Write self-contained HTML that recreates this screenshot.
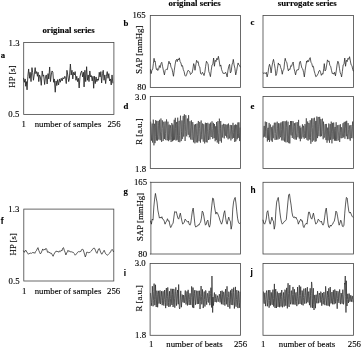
<!DOCTYPE html><html><head><meta charset="utf-8"><style>html,body{margin:0;padding:0;background:#fff;}svg{display:block;will-change:transform}text{font-family:"Liberation Serif",serif;font-size:8.75px;fill:#000;stroke:#000;stroke-width:0.12px}.b{font-weight:bold}.s{font-family:"Liberation Sans",sans-serif;font-weight:bold;font-size:8.3px}</style></head><body>
<svg width="361" height="348" viewBox="0 0 361 348">
<rect width="100%" height="100%" fill="#fff"/>
<rect x="23.7" y="42.5" width="90.2" height="71.9" fill="none" stroke="#484848" stroke-width="0.82"/>
<rect x="23.8" y="209.1" width="90.0" height="71.9" fill="none" stroke="#484848" stroke-width="0.82"/>
<rect x="150.3" y="15.5" width="90.2" height="71.9" fill="none" stroke="#484848" stroke-width="0.82"/>
<rect x="263" y="15.5" width="90.5" height="71.9" fill="none" stroke="#484848" stroke-width="0.82"/>
<rect x="150.3" y="96.5" width="90.2" height="72.0" fill="none" stroke="#484848" stroke-width="0.82"/>
<rect x="263" y="96.5" width="90.5" height="72.0" fill="none" stroke="#484848" stroke-width="0.82"/>
<rect x="150.9" y="182.3" width="89.6" height="71.7" fill="none" stroke="#484848" stroke-width="0.82"/>
<rect x="263" y="182.3" width="90.5" height="71.7" fill="none" stroke="#484848" stroke-width="0.82"/>
<rect x="150.1" y="263.5" width="90.4" height="71.8" fill="none" stroke="#484848" stroke-width="0.82"/>
<rect x="263" y="263.5" width="90.5" height="71.8" fill="none" stroke="#484848" stroke-width="0.82"/>
<path d="M149.9 182.3H151M149.9 254H151" stroke="#484848" stroke-width="0.82"/>
<polyline points="23.60,78.27 24.39,82.26 25.19,78.94 25.72,86.25 26.39,81.60 27.05,89.84 27.85,76.28 28.65,68.96 29.45,78.27 30.11,72.29 31.04,81.60 31.97,67.63 32.64,72.29 33.44,80.27 34.23,74.95 35.16,67.63 35.83,73.62 36.63,71.62 37.43,76.28 38.09,72.29 38.76,81.60 39.55,74.95 40.35,76.94 41.28,85.32 42.21,70.96 43.01,76.28 43.68,74.95 44.61,84.52 45.54,76.28 46.34,74.95 47.13,83.99 48.06,73.62 48.73,78.94 49.66,66.97 50.46,81.60 51.26,74.95 52.05,70.96 52.85,72.29 53.65,82.26 54.31,78.94 55.24,92.23 56.04,80.93 56.84,85.59 57.64,79.60 58.57,84.92 59.50,78.94 60.30,82.26 61.23,78.27 62.16,80.93 62.96,77.61 63.89,78.94 64.82,76.28 65.62,78.27 66.28,83.59 66.95,70.29 67.74,74.95 68.66,81.60 69.33,78.94 70.39,64.04 71.19,74.95 71.99,70.29 72.79,78.94 73.59,72.29 74.38,74.95 75.18,71.62 75.98,80.27 76.78,76.28 77.57,81.60 78.37,78.27 79.17,87.98 79.97,76.94 80.77,72.95 81.70,70.96 82.63,76.94 83.43,72.29 84.09,86.91 84.89,70.29 85.69,81.60 86.62,66.70 87.41,80.27 88.21,74.95 89.01,81.60 89.81,70.96 90.61,76.94 91.40,75.61 92.20,80.93 93.00,76.28 93.66,88.24 94.46,76.28 95.26,83.59 96.06,76.94 96.86,81.60 97.65,78.94 98.45,80.27 99.25,72.29 100.05,76.94 100.85,71.62 101.64,82.93 102.44,73.62 103.24,70.29 104.04,80.27 104.84,74.95 105.63,83.59 106.43,76.28 107.23,71.62 108.03,78.27 108.82,73.62 109.62,80.93 110.42,78.94 111.22,84.92 112.02,74.95 112.81,82.93" fill="none" stroke="#222" stroke-width="0.85" stroke-linejoin="round" stroke-linecap="round"/>
<polyline points="150.60,69.60 151.13,73.59 151.93,70.27 152.72,68.94 153.39,63.62 154.05,58.30 154.59,61.62 155.12,60.96 155.91,66.94 156.45,69.60 157.24,68.67 157.78,70.53 158.57,69.60 159.37,65.61 160.17,67.61 160.97,63.62 161.77,62.29 162.56,66.28 163.36,70.27 164.43,74.92 165.22,70.27 166.29,69.20 167.35,69.60 168.15,64.95 168.95,61.22 169.74,63.62 170.28,62.95 171.07,67.61 171.87,68.27 172.67,72.26 173.47,76.25 174.27,70.27 175.06,64.95 175.86,60.29 176.66,59.36 177.19,61.62 177.99,58.96 178.79,59.89 179.32,57.90 180.12,61.62 180.91,62.95 181.71,66.28 182.51,65.61 183.31,69.60 184.11,71.60 184.90,75.32 185.70,76.25 186.50,74.92 187.30,72.26 188.10,70.27 188.89,70.93 189.69,71.60 190.49,74.52 191.29,73.59 192.09,72.93 192.88,68.94 193.68,63.62 194.48,66.28 195.00,70.27 195.80,64.95 196.60,60.29 197.39,62.29 198.19,61.62 198.99,66.28 199.79,66.94 200.59,73.59 201.65,74.26 202.45,72.26 203.24,73.59 204.04,75.59 204.84,72.26 205.64,66.28 206.44,61.22 207.23,62.95 208.03,63.62 208.83,71.60 209.63,73.59 210.43,76.65 211.22,70.27 212.02,64.95 212.82,64.28 213.62,58.03 214.41,66.28 215.21,60.29 216.01,61.62 216.81,58.30 217.61,59.63 218.40,56.30 219.20,60.96 220.00,66.28 220.80,64.95 221.60,69.60 222.39,71.60 223.19,73.59 223.99,72.93 224.79,73.59 225.59,72.26 226.38,73.99 227.18,76.91 227.98,70.27 228.78,66.28 229.57,64.28 230.37,72.93 231.17,71.60 231.97,64.95 232.77,62.29 233.30,59.36 234.10,64.95 234.89,68.27 235.69,74.92 236.49,71.60 237.29,66.94 238.09,62.95 238.88,64.95 239.68,65.61 240.21,66.94" fill="none" stroke="#222" stroke-width="0.74" stroke-linejoin="round" stroke-linecap="round"/>
<polyline points="263.13,72.93 263.93,73.59 264.72,72.93 265.52,73.59 266.32,72.26 267.12,76.91 267.91,73.59 268.71,67.61 269.51,64.28 270.31,66.94 271.11,72.93 271.90,66.94 272.70,62.29 273.50,59.36 274.30,63.62 275.10,68.27 275.89,75.59 276.69,73.59 277.49,68.27 278.29,62.95 279.09,64.95 279.88,64.28 280.68,67.61 281.48,69.60 282.28,74.26 283.07,70.27 283.87,69.60 284.67,61.62 285.20,58.30 286.00,61.62 286.80,62.29 287.60,67.61 288.39,70.93 289.19,68.94 289.99,69.60 290.79,65.61 291.59,66.28 292.38,63.62 293.18,62.02 293.98,68.27 294.78,71.60 295.57,74.92 296.37,70.93 297.17,69.60 297.97,70.27 298.77,68.94 299.56,62.29 300.36,61.22 301.16,64.95 301.96,68.27 302.76,68.94 303.55,72.26 304.35,76.91 305.15,70.27 305.95,64.95 306.74,60.96 307.00,62.29 307.80,60.29 308.60,61.62 309.39,58.96 310.19,57.63 310.99,62.29 311.79,63.62 312.59,66.94 313.38,66.28 314.18,70.93 314.98,73.59 315.78,76.65 316.57,76.25 317.37,74.92 318.17,73.59 318.97,70.93 319.77,70.27 320.56,72.26 321.36,75.32 322.16,73.59 322.96,74.26 323.76,68.27 324.29,63.62 325.09,70.93 325.88,69.60 326.68,64.95 327.48,59.89 328.28,61.62 329.07,60.96 329.87,65.61 330.67,66.28 331.47,70.27 332.27,73.59 333.06,72.93 333.86,74.26 334.66,72.26 335.46,75.85 336.26,70.93 337.05,64.95 337.85,61.22 338.65,62.95 339.45,68.27 340.24,72.93 341.04,74.52 341.57,76.91 342.37,71.60 343.17,64.95 343.97,64.28 344.77,58.03 345.56,66.28 346.36,60.29 347.16,61.62 347.96,58.30 348.76,59.36 349.55,56.70 350.35,60.96 351.15,64.95 351.95,65.61 352.74,69.60 353.28,70.93" fill="none" stroke="#222" stroke-width="0.74" stroke-linejoin="round" stroke-linecap="round"/>
<polyline points="150.61,221.14 151.41,224.16 152.21,219.14 153.02,220.14 153.82,207.09 154.62,199.06 155.43,193.43 156.23,198.05 157.03,202.07 157.84,210.10 158.64,214.12 159.44,218.13 160.24,217.13 161.05,218.13 161.85,216.73 162.65,219.14 163.46,219.54 164.26,221.14 165.06,224.16 165.87,222.15 166.67,221.14 167.47,218.73 168.28,221.14 169.08,220.74 169.88,225.16 170.69,227.57 171.49,226.16 172.29,224.16 173.10,223.15 173.90,217.13 174.70,211.51 175.51,212.11 176.31,211.71 177.11,215.12 177.92,218.13 178.72,219.14 179.52,216.12 180.33,213.11 181.13,217.13 181.93,221.14 182.73,224.16 183.54,223.15 184.34,222.15 185.14,219.14 185.95,220.14 186.75,221.14 187.55,222.15 188.36,221.14 189.16,224.16 189.96,225.16 190.77,223.15 191.57,217.13 192.37,211.10 193.18,208.09 193.98,215.12 194.78,223.15 195.00,225.16 195.80,227.17 196.61,226.16 197.41,226.16 198.21,224.76 199.02,225.16 199.82,223.15 200.62,222.15 201.43,218.13 202.23,211.10 203.03,212.11 203.84,216.12 204.64,221.14 205.44,225.16 206.24,224.16 207.05,221.14 207.85,220.14 208.65,225.16 209.46,227.17 210.26,224.16 211.06,213.11 211.87,205.08 212.67,198.05 213.47,198.65 214.28,205.08 215.08,210.10 215.88,214.12 216.69,212.11 217.49,213.11 218.29,215.12 219.10,217.13 219.90,220.14 220.70,222.15 221.51,224.16 222.31,222.15 223.11,218.13 223.92,213.11 224.72,210.70 225.52,217.13 226.33,222.15 227.13,224.16 227.93,220.14 228.73,217.13 229.54,220.14 230.34,221.14 231.14,229.18 231.95,225.16 232.75,209.10 233.55,202.07 234.36,199.06 235.16,197.45 235.96,203.07 236.77,211.10 237.57,218.13 238.37,222.15 239.18,223.55 239.98,223.15" fill="none" stroke="#222" stroke-width="0.74" stroke-linejoin="round" stroke-linecap="round"/>
<polyline points="263.01,220.14 263.81,223.15 264.61,224.16 265.42,222.15 266.22,219.14 267.02,212.11 267.83,210.70 268.63,216.12 269.43,222.15 270.24,224.16 271.04,221.14 271.84,217.13 272.65,220.14 273.45,221.14 274.25,229.18 275.06,225.16 275.86,211.10 276.66,202.07 277.47,199.46 278.27,197.45 279.07,204.08 279.88,212.11 280.68,218.13 281.48,222.15 282.29,224.16 283.09,223.15 283.89,222.15 284.69,221.14 285.50,220.74 286.30,219.54 287.10,211.10 287.91,202.07 288.71,194.64 289.51,194.04 290.32,200.06 291.12,205.08 291.92,212.11 292.73,216.12 293.53,217.53 294.33,216.73 295.14,218.13 295.94,217.13 296.74,219.14 297.55,220.14 298.35,224.16 299.15,222.15 299.96,220.74 300.76,219.14 301.56,221.14 302.37,220.74 303.17,226.16 303.97,227.57 304.78,225.16 305.58,224.16 306.38,223.15 307.00,224.16 307.80,218.13 308.61,212.11 309.41,212.11 310.21,215.12 311.02,218.13 311.82,219.14 312.62,216.12 313.43,213.11 314.23,217.13 315.03,221.14 315.84,224.16 316.64,223.15 317.44,222.15 318.24,219.14 319.05,220.14 319.85,221.14 320.65,222.15 321.46,221.14 322.26,224.16 323.06,225.16 323.87,223.15 324.67,217.13 325.47,211.10 326.28,208.09 327.08,215.12 327.88,223.15 328.69,227.17 329.49,227.57 330.29,225.16 331.10,226.16 331.90,224.76 332.70,224.16 333.51,222.15 334.31,221.14 335.11,217.13 335.92,211.10 336.72,212.11 337.52,216.12 338.33,221.14 339.13,225.16 339.93,223.15 340.73,220.14 341.54,222.15 342.34,226.16 343.14,226.77 343.95,225.16 344.75,213.11 345.55,204.08 346.36,197.45 347.16,198.05 347.96,205.08 348.77,211.10 349.57,213.11 350.37,212.11 351.18,214.12 351.98,216.12 352.78,217.13" fill="none" stroke="#222" stroke-width="0.74" stroke-linejoin="round" stroke-linecap="round"/>
<polyline points="23.60,250.96 24.39,252.29 25.19,250.69 25.99,250.29 26.79,252.02 27.59,252.95 28.38,254.28 29.18,253.35 29.98,253.62 30.78,252.95 31.57,253.35 32.37,252.55 33.17,252.95 33.97,252.29 34.77,253.35 35.56,251.62 36.36,250.69 37.16,248.96 37.96,247.63 38.76,250.29 39.55,252.29 40.35,253.88 41.15,252.95 41.95,250.96 42.74,248.96 43.54,250.29 44.34,249.36 45.14,249.89 45.94,248.30 46.73,249.36 47.53,252.29 48.33,251.62 49.13,252.95 49.93,252.29 50.72,253.62 51.52,253.35 52.32,254.95 53.12,256.28 53.91,254.28 54.71,252.95 55.51,251.62 56.31,250.96 57.11,252.02 57.90,251.22 58.70,252.29 59.50,250.96 60.30,251.62 61.10,250.29 61.89,250.96 62.69,248.30 63.49,247.63 64.29,250.29 65.09,252.29 65.88,254.95 66.68,252.95 67.48,251.62 68.00,250.29 68.80,251.62 69.60,250.96 70.39,252.02 71.19,251.62 71.99,252.29 72.79,252.02 73.59,252.95 74.38,253.62 75.18,255.21 75.98,254.28 76.78,253.62 77.57,252.29 78.37,251.62 79.17,252.02 79.97,251.22 80.77,251.62 81.56,249.63 82.36,249.36 83.16,249.63 83.96,252.29 84.76,254.95 85.29,256.94 86.09,254.95 86.62,252.29 87.41,252.02 88.21,252.95 89.01,252.29 89.81,252.55 90.61,251.62 91.40,250.96 92.20,249.63 93.00,248.96 93.80,248.03 94.60,248.30 95.39,250.29 96.19,252.29 96.99,253.35 97.79,250.96 98.59,248.96 99.38,248.56 100.18,250.96 100.98,252.95 101.78,254.28 102.57,252.95 103.37,251.62 104.17,250.29 104.97,252.29 105.77,253.88 106.56,254.68 107.36,255.21 108.16,254.68 108.96,253.62 109.76,252.95 110.55,252.02 111.35,250.29 112.15,249.36 112.95,250.69 113.48,251.62" fill="none" stroke="#222" stroke-width="0.74" stroke-linejoin="round" stroke-linecap="round"/>
<polyline points="150.80,122.01 151.15,133.94 151.50,140.66 151.85,128.04 152.20,123.53 152.55,142.55 152.90,137.78 153.25,119.62 153.60,125.70 153.95,145.35 154.30,125.98 154.65,123.72 155.00,143.17 155.35,136.30 155.70,120.09 156.05,127.81 156.40,140.52 156.75,120.95 157.10,125.36 157.45,140.69 157.80,134.23 158.15,120.87 158.50,125.30 158.85,139.59 159.20,136.32 159.55,119.78 159.89,130.50 160.24,140.24 160.59,131.90 160.94,118.47 161.29,132.50 161.64,141.93 161.99,128.69 162.34,120.35 162.69,128.23 163.04,140.99 163.39,139.52 163.74,121.75 164.09,125.56 164.44,139.06 164.79,130.02 165.14,121.49 165.49,133.54 165.84,140.11 166.19,130.09 166.54,119.38 166.89,126.02 167.24,140.37 167.59,138.59 167.94,121.65 168.29,133.85 168.64,141.17 168.99,125.39 169.34,124.62 169.69,139.87 170.04,139.32 170.39,125.19 170.74,128.80 171.09,142.02 171.44,137.68 171.79,122.99 172.14,125.88 172.49,141.24 172.84,124.59 173.19,130.08 173.54,140.35 173.89,125.28 174.24,119.75 174.59,139.75 174.94,135.51 175.29,117.82 175.64,128.55 175.99,140.56 176.34,124.37 176.69,121.95 177.04,139.90 177.39,135.48 177.73,117.67 178.08,140.11 178.43,141.87 178.78,125.34 179.13,120.82 179.48,135.40 179.83,142.22 180.18,121.65 180.53,115.65 180.88,129.60 181.23,141.07 181.58,131.39 181.93,120.48 182.28,138.98 182.63,138.65 182.98,116.54 183.33,115.88 183.68,136.58 184.03,132.18 184.38,114.28 184.73,124.52 185.08,141.01 185.43,131.75 185.78,115.20 186.13,118.64 186.48,136.06 186.83,136.42 187.18,122.09 187.53,118.53 187.88,130.68 188.23,134.79 188.58,115.15 188.93,123.02 189.28,137.37 189.63,135.84 189.98,121.22 190.33,127.79 190.68,139.47 191.03,133.42 191.38,120.33 191.73,126.85 192.08,139.86 192.43,130.92 192.78,122.09 193.13,129.36 193.48,142.33 193.83,136.31 194.18,124.52 194.53,125.04 194.88,143.33 195.23,127.81 195.57,124.01 195.92,138.06 196.27,142.42 196.62,128.24 196.97,123.53 197.32,134.38 197.67,142.59 198.02,126.72 198.37,120.97 198.72,136.84 199.07,141.27 199.42,128.48 199.77,121.95 200.12,131.49 200.47,142.67 200.82,130.58 201.17,120.46 201.52,134.14 201.87,139.32 202.22,125.39 202.57,123.45 202.92,134.93 203.27,141.68 203.62,124.41 203.97,124.18 204.32,132.94 204.67,143.43 205.02,133.55 205.37,122.71 205.72,134.77 206.07,142.08 206.42,123.02 206.77,132.04 207.12,142.50 207.47,131.20 207.82,122.81 208.17,128.63 208.52,140.00 208.87,135.71 209.22,123.70 209.57,130.66 209.92,139.50 210.27,131.90 210.62,122.60 210.97,135.78 211.32,137.02 211.67,126.61 212.02,121.34 212.37,128.41 212.72,138.83 213.07,132.71 213.41,122.88 213.76,130.79 214.11,138.09 214.46,124.00 214.81,129.67 215.16,141.25 215.51,126.67 215.86,126.23 216.21,139.98 216.56,121.98 216.91,127.84 217.26,142.54 217.61,128.13 217.96,121.07 218.31,132.83 218.66,143.82 219.01,133.40 219.36,118.62 219.71,124.50 220.06,141.15 220.41,128.52 220.76,121.02 221.11,137.04 221.46,142.61 221.81,129.78 222.16,124.70 222.51,137.19 222.86,137.62 223.21,126.85 223.56,123.78 223.91,132.04 224.26,138.43 224.61,126.81 224.96,124.04 225.31,135.07 225.66,135.75 226.01,124.67 226.36,134.17 226.71,137.64 227.06,124.98 227.41,124.44 227.76,134.43 228.11,139.33 228.46,123.50 228.81,128.50 229.16,138.42 229.51,138.24 229.86,128.64 230.21,124.93 230.56,133.98 230.91,140.48 231.25,134.99 231.60,125.14 231.95,134.66 232.30,138.76 232.65,129.55 233.00,122.83 233.35,132.67 233.70,138.00 234.05,125.91 234.40,125.17 234.75,142.01 235.10,129.80 235.45,124.43 235.80,141.27 236.15,139.14 236.50,124.83 236.85,125.29 237.20,139.30 237.55,133.87 237.90,122.44 238.25,137.95 238.60,133.92 238.95,122.34 239.30,132.67 239.65,141.06 240.00,127.93" fill="none" stroke="#222" stroke-width="0.58" stroke-linejoin="round" stroke-linecap="round"/>
<polyline points="263.50,137.04 263.85,129.95 264.20,125.91 264.55,136.71 264.90,136.30 265.25,121.59 265.61,131.85 265.96,137.81 266.31,128.33 266.66,122.05 267.01,129.14 267.36,141.52 267.71,129.52 268.06,127.81 268.41,140.03 268.76,129.54 269.12,122.91 269.47,141.95 269.82,135.07 270.17,124.58 270.52,124.59 270.87,137.70 271.22,140.55 271.57,127.28 271.92,127.23 272.27,141.88 272.63,128.62 272.98,125.48 273.33,137.48 273.68,138.30 274.03,125.81 274.38,122.67 274.73,133.79 275.08,139.99 275.43,133.43 275.78,122.65 276.14,131.58 276.49,139.67 276.84,134.57 277.19,121.66 277.54,128.75 277.89,139.60 278.24,136.01 278.59,123.17 278.94,136.54 279.29,138.87 279.65,129.04 280.00,123.32 280.35,137.34 280.70,135.65 281.05,122.28 281.40,129.40 281.75,140.43 282.10,133.55 282.45,121.43 282.80,137.94 283.15,140.53 283.51,126.96 283.86,121.13 284.21,136.63 284.56,141.63 284.91,128.10 285.26,121.32 285.61,141.33 285.96,142.39 286.31,127.37 286.66,120.60 287.02,136.21 287.37,142.21 287.72,125.31 288.07,121.70 288.42,135.03 288.77,143.15 289.12,127.39 289.47,125.10 289.82,143.44 290.17,132.06 290.53,121.01 290.88,134.28 291.23,135.41 291.58,121.04 291.93,126.59 292.28,137.97 292.63,131.78 292.98,121.12 293.33,123.16 293.68,138.81 294.04,137.80 294.39,123.12 294.74,126.42 295.09,139.62 295.44,135.51 295.79,122.55 296.14,133.29 296.49,139.61 296.84,132.12 297.19,122.05 297.55,126.76 297.90,137.25 298.25,133.38 298.60,119.86 298.95,131.37 299.30,138.64 299.65,126.87 300.00,125.72 300.35,141.24 300.70,127.92 301.05,127.53 301.41,138.34 301.76,138.75 302.11,128.19 302.46,124.30 302.81,134.79 303.16,137.42 303.51,125.77 303.86,128.25 304.21,138.84 304.56,133.39 304.92,124.09 305.27,125.38 305.62,137.98 305.97,130.24 306.32,118.32 306.67,137.78 307.02,139.82 307.37,124.19 307.72,121.45 308.07,140.67 308.43,138.95 308.78,122.98 309.13,123.82 309.48,137.77 309.83,139.64 310.18,120.24 310.53,137.34 310.88,143.77 311.23,132.51 311.58,118.37 311.94,128.69 312.29,141.79 312.64,127.54 312.99,118.35 313.34,124.32 313.69,140.53 314.04,137.06 314.39,117.69 314.74,121.73 315.09,141.79 315.45,125.89 315.80,120.97 316.15,141.24 316.50,135.16 316.85,116.51 317.20,132.02 317.55,138.11 317.90,119.78 318.25,116.98 318.60,131.79 318.95,136.20 319.31,126.95 319.66,116.86 320.01,124.93 320.36,136.55 320.71,119.11 321.06,119.25 321.41,136.20 321.76,133.14 322.11,120.41 322.46,118.61 322.82,131.34 323.17,139.26 323.52,121.64 323.87,128.20 324.22,137.72 324.57,135.56 324.92,125.80 325.27,124.05 325.62,134.92 325.97,140.10 326.33,123.93 326.68,131.11 327.03,142.74 327.38,130.84 327.73,127.57 328.08,140.42 328.43,136.11 328.78,123.48 329.13,133.82 329.48,142.75 329.84,130.44 330.19,124.06 330.54,139.80 330.89,136.58 331.24,121.62 331.59,133.12 331.94,143.37 332.29,131.40 332.64,122.89 332.99,139.21 333.35,138.52 333.70,122.56 334.05,128.24 334.40,140.70 334.75,128.75 335.10,126.98 335.45,140.75 335.80,130.51 336.15,122.24 336.50,139.38 336.85,140.97 337.21,125.52 337.56,125.16 337.91,138.43 338.26,140.43 338.61,131.12 338.96,124.88 339.31,130.20 339.66,142.03 340.01,135.56 340.36,124.21 340.72,132.66 341.07,138.28 341.42,127.25 341.77,128.94 342.12,138.10 342.47,136.62 342.82,124.09 343.17,123.13 343.52,137.43 343.87,136.54 344.23,121.88 344.58,133.21 344.93,138.72 345.28,128.69 345.63,121.51 345.98,132.73 346.33,136.27 346.68,120.79 347.03,131.00 347.38,139.14 347.74,133.41 348.09,123.06 348.44,129.64 348.79,138.61 349.14,139.19 349.49,125.42 349.84,125.73 350.19,140.71 350.54,136.79 350.89,125.02 351.25,128.26 351.60,138.08 351.95,136.77 352.30,126.30 352.65,121.55 353.00,138.07" fill="none" stroke="#222" stroke-width="0.58" stroke-linejoin="round" stroke-linecap="round"/>
<polyline points="150.60,293.50 150.95,299.23 151.30,305.80 151.65,302.49 152.00,294.85 152.35,286.20 152.70,295.99 153.05,306.28 153.40,300.63 153.76,291.41 154.11,283.62 154.46,299.19 154.81,305.18 155.16,299.53 155.51,284.78 155.86,296.55 156.21,307.01 156.56,301.00 156.91,290.67 157.26,294.48 157.61,307.25 157.96,301.16 158.31,293.09 158.66,290.79 159.01,303.59 159.36,301.06 159.72,291.39 160.07,290.49 160.42,304.06 160.77,302.82 161.12,296.40 161.47,291.18 161.82,297.36 162.17,305.16 162.52,300.34 162.87,291.22 163.22,291.41 163.57,304.75 163.92,305.61 164.27,299.53 164.62,290.03 164.97,295.05 165.32,302.44 165.68,308.12 166.03,292.13 166.38,288.06 166.73,298.44 167.08,305.74 167.43,296.18 167.78,287.41 168.13,294.02 168.48,302.61 168.83,306.98 169.18,296.70 169.53,291.22 169.88,302.61 170.23,306.50 170.58,298.63 170.93,288.74 171.28,294.89 171.64,303.80 171.99,304.99 172.34,288.87 172.69,294.27 173.04,306.98 173.39,304.53 173.74,288.92 174.09,290.17 174.44,298.85 174.79,307.67 175.14,302.95 175.49,291.81 175.84,287.35 176.19,293.89 176.54,305.64 176.89,302.47 177.24,293.33 177.60,289.96 177.95,299.35 178.30,304.24 178.65,284.50 179.00,298.25 179.35,308.00 179.70,308.92 180.05,306.76 180.40,297.05 180.75,290.84 181.10,299.59 181.45,307.21 181.80,301.44 182.15,294.58 182.50,295.45 182.85,301.98 183.20,302.47 183.56,295.06 183.91,296.14 184.26,302.24 184.61,302.86 184.96,294.19 185.31,290.51 185.66,297.88 186.01,304.44 186.36,301.20 186.71,293.28 187.06,291.37 187.41,305.52 187.76,300.39 188.11,289.84 188.46,294.20 188.81,302.32 189.16,305.01 189.52,299.60 189.87,293.34 190.22,293.48 190.57,304.40 190.92,304.99 191.27,297.29 191.62,286.42 191.97,289.54 192.32,304.86 192.67,307.46 193.02,287.58 193.37,295.18 193.72,308.06 194.07,301.22 194.42,293.64 194.77,290.12 195.12,298.15 195.48,304.77 195.83,299.35 196.18,290.55 196.53,291.20 196.88,300.24 197.23,304.09 197.58,298.99 197.93,290.83 198.28,296.99 198.63,303.96 198.98,301.08 199.33,290.69 199.68,296.20 200.03,309.04 200.38,301.31 200.73,293.87 201.08,286.03 201.44,296.58 201.79,304.32 202.14,300.32 202.49,289.40 202.84,297.78 203.19,308.06 203.54,305.34 203.89,294.27 204.24,291.51 204.59,299.33 204.94,306.52 205.29,301.24 205.64,290.38 205.99,291.70 206.34,300.44 206.69,304.70 207.04,298.43 207.40,293.24 207.75,293.75 208.10,301.86 208.45,302.53 208.80,294.69 209.15,290.87 209.50,296.76 209.85,305.20 210.20,300.90 210.55,293.21 210.90,287.69 211.25,293.51 211.60,307.49 211.95,276.00 212.30,296.25 212.65,312.50 213.00,297.02 213.36,305.59 213.71,303.17 214.06,295.51 214.41,292.54 214.76,299.07 215.11,301.99 215.46,298.48 215.81,294.34 216.16,297.05 216.51,302.29 216.86,301.27 217.21,297.93 217.56,295.65 217.91,297.84 218.26,301.71 218.61,300.41 218.96,297.20 219.32,294.11 219.67,296.86 220.02,302.45 220.37,299.15 220.72,291.02 221.07,296.20 221.42,304.24 221.77,297.99 222.12,290.68 222.47,294.26 222.82,303.93 223.17,304.67 223.52,292.20 223.87,291.80 224.22,294.81 224.57,302.53 224.92,305.58 225.28,293.77 225.63,289.06 225.98,299.84 226.33,304.33 226.68,296.89 227.03,286.31 227.38,296.27 227.73,306.04 228.08,306.98 228.43,297.59 228.78,291.68 229.13,293.11 229.48,303.31 229.83,308.57 230.18,299.45 230.53,290.42 230.88,302.61 231.24,304.88 231.59,292.29 231.94,288.88 232.29,292.06 232.64,304.95 232.99,304.90 233.34,292.45 233.69,287.54 234.04,299.04 234.39,308.56 234.74,301.86 235.09,292.47 235.44,286.88 235.79,305.43 236.14,306.69 236.49,299.46 236.84,290.10 237.20,294.66 237.55,305.21 237.90,308.08 238.25,293.54 238.60,290.77 238.95,302.27 239.30,307.89 239.65,302.22 240.00,292.11" fill="none" stroke="#222" stroke-width="0.7" stroke-linejoin="round" stroke-linecap="round"/>
<polyline points="263.50,291.89 263.85,300.90 264.20,303.68 264.55,294.98 264.90,292.79 265.25,299.33 265.61,306.15 265.96,301.69 266.31,292.22 266.66,290.56 267.01,298.87 267.36,306.29 267.71,302.63 268.06,293.42 268.41,290.16 268.76,300.60 269.12,307.68 269.47,300.32 269.82,290.07 270.17,294.02 270.52,305.48 270.87,301.87 271.22,292.36 271.57,294.94 271.92,304.02 272.27,304.89 272.63,292.99 272.98,289.65 273.33,298.37 273.68,306.47 274.03,298.67 274.38,283.90 274.73,302.74 275.08,307.99 275.43,291.23 275.78,289.06 276.14,298.01 276.49,308.02 276.84,297.38 277.19,291.59 277.54,292.73 277.89,306.56 278.24,306.93 278.59,297.02 278.94,293.03 279.29,301.16 279.65,307.29 280.00,294.21 280.35,292.71 280.70,299.62 281.05,306.49 281.40,296.33 281.75,290.01 282.10,297.16 282.45,307.32 282.80,305.19 283.15,295.58 283.51,292.45 283.86,303.14 284.21,306.55 284.56,298.86 284.91,289.67 285.26,290.85 285.61,305.31 285.96,305.84 286.31,292.95 286.66,287.89 287.02,300.68 287.37,308.38 287.72,291.04 288.07,283.23 288.42,293.16 288.77,304.63 289.12,306.94 289.47,293.10 289.82,285.05 290.17,299.22 290.53,304.24 290.88,301.59 291.23,290.88 291.58,290.61 291.93,301.12 292.28,304.43 292.63,294.57 292.98,286.95 293.33,294.21 293.68,304.41 294.04,300.15 294.39,289.22 294.74,294.26 295.09,304.71 295.44,300.02 295.79,293.07 296.14,292.34 296.49,301.44 296.84,306.12 297.19,298.17 297.55,287.04 297.90,296.39 298.25,304.39 298.60,303.14 298.95,293.91 299.30,285.28 299.65,295.69 300.00,303.94 300.35,295.48 300.70,286.65 301.05,295.57 301.41,303.00 301.76,304.72 302.11,290.54 302.46,292.74 302.81,303.64 303.16,305.42 303.51,297.48 303.86,288.65 304.21,295.33 304.56,303.55 304.92,303.59 305.27,295.22 305.62,288.15 305.97,292.73 306.32,303.36 306.67,301.93 307.02,291.42 307.37,287.18 307.72,301.91 308.07,302.43 308.43,293.67 308.78,291.55 309.13,299.21 309.48,305.15 309.83,296.31 310.18,288.27 310.53,295.62 310.88,307.56 311.23,293.29 311.58,281.93 311.94,284.50 312.29,298.25 312.64,308.00 312.99,293.66 313.34,288.20 313.69,304.53 314.04,310.01 314.39,298.94 314.74,294.95 315.09,302.46 315.45,308.21 315.80,297.56 316.15,294.68 316.50,300.38 316.85,303.29 317.20,297.92 317.55,291.12 317.90,294.94 318.25,303.25 318.60,300.87 318.95,294.98 319.31,292.99 319.66,295.32 320.01,302.61 320.36,302.22 320.71,291.65 321.06,292.45 321.41,299.46 321.76,305.72 322.11,297.86 322.46,293.04 322.82,298.42 323.17,304.29 323.52,300.68 323.87,291.97 324.22,294.38 324.57,302.96 324.92,305.15 325.27,299.22 325.62,286.33 325.97,291.81 326.33,300.10 326.68,305.50 327.03,298.29 327.38,291.10 327.73,295.55 328.08,305.74 328.43,297.78 328.78,288.30 329.13,294.85 329.48,306.36 329.84,301.06 330.19,287.01 330.54,292.65 330.89,303.50 331.24,303.19 331.59,298.09 331.94,292.00 332.29,300.07 332.64,304.31 332.99,297.70 333.35,290.24 333.70,299.78 334.05,304.26 334.40,302.68 334.75,289.44 335.10,292.20 335.45,303.42 335.80,301.39 336.15,290.88 336.50,292.36 336.85,301.73 337.21,308.72 337.56,298.69 337.91,291.22 338.26,292.68 338.61,301.40 338.96,302.89 339.31,293.71 339.66,289.45 340.01,294.87 340.36,304.17 340.72,302.14 341.07,293.02 341.42,294.00 341.77,300.30 342.12,303.72 342.47,294.74 342.82,289.65 343.17,294.79 343.52,304.35 343.87,302.37 344.23,295.16 344.58,283.17 344.93,284.27 345.28,276.00 345.63,296.25 345.98,312.50 346.33,280.75 346.68,299.43 347.03,306.03 347.38,299.42 347.74,293.82 348.09,296.84 348.44,302.97 348.79,299.54 349.14,293.54 349.49,296.21 349.84,301.75 350.19,301.25 350.54,295.92 350.89,295.16 351.25,299.75 351.60,301.73 351.95,296.98 352.30,295.94 352.65,299.21 353.00,301.86" fill="none" stroke="#222" stroke-width="0.7" stroke-linejoin="round" stroke-linecap="round"/>
<text x="68.5" y="33" text-anchor="middle" class="b">original series</text>
<text x="194.5" y="6" text-anchor="middle" class="b">original series</text>
<text x="307.2" y="6" text-anchor="middle" class="b">surrogate series</text>
<text x="0.7" y="57.7" text-anchor="start" class="b">a</text>
<text x="0.8" y="224.1" text-anchor="start" class="s">f</text>
<text x="123.5" y="25.7" text-anchor="start" class="b">b</text>
<text x="250.5" y="25.3" text-anchor="start" class="b">c</text>
<text x="123.5" y="109" text-anchor="start" class="b">d</text>
<text x="250.5" y="109" text-anchor="start" class="b">e</text>
<text x="123.5" y="193.6" text-anchor="start" class="b">g</text>
<text x="250.6" y="193.4" text-anchor="start" class="s">h</text>
<text x="123.8" y="275.6" text-anchor="start" class="s">i</text>
<text x="250.5" y="275" text-anchor="start" class="s">j</text>
<text x="19.5" y="45.5" text-anchor="end" class="">1.3</text>
<text x="19.3" y="117.0" text-anchor="end" class="">0.5</text>
<text x="19.3" y="212.1" text-anchor="end" class="">1.3</text>
<text x="19.5" y="284" text-anchor="end" class="">0.5</text>
<text x="145.5" y="18.2" text-anchor="end" class="">165</text>
<text x="146" y="90" text-anchor="end" class="">80</text>
<text x="146" y="99.6" text-anchor="end" class="">3.0</text>
<text x="146" y="171.7" text-anchor="end" class="">1.8</text>
<text x="147" y="184.6" text-anchor="end" class="">165</text>
<text x="147" y="256.8" text-anchor="end" class="">80</text>
<text x="145.7" y="265.9" text-anchor="end" class="">3.0</text>
<text x="146" y="338.4" text-anchor="end" class="">1.8</text>
<text x="15.2" y="76.5" text-anchor="middle" class="" transform="rotate(-90 15.2 76.5)">HP [s]</text>
<text x="15.8" y="244.3" text-anchor="middle" class="" transform="rotate(-90 15.8 244.3)">HP [s]</text>
<text x="141.8" y="49.7" text-anchor="middle" class="" transform="rotate(-90 141.8 49.7)">SAP [mmHg]</text>
<text x="142.4" y="131.5" text-anchor="middle" class="" transform="rotate(-90 142.4 131.5)">R [a.u.]</text>
<text x="143" y="216.9" text-anchor="middle" class="" transform="rotate(-90 143 216.9)">SAP [mmHg]</text>
<text x="142.2" y="298.2" text-anchor="middle" class="" transform="rotate(-90 142.2 298.2)">R [a.u.]</text>
<text x="21.4" y="127" text-anchor="start" class="">1</text>
<text x="68" y="127" text-anchor="middle" class="">number of samples</text>
<text x="120.6" y="127" text-anchor="end" class="">256</text>
<text x="22" y="293.5" text-anchor="start" class="">1</text>
<text x="68" y="293.5" text-anchor="middle" class="">number of samples</text>
<text x="120.2" y="293.5" text-anchor="end" class="">256</text>
<text x="149" y="347" text-anchor="start" class="">1</text>
<text x="194.5" y="347" text-anchor="middle" class="">number of beats</text>
<text x="247" y="347" text-anchor="end" class="">256</text>
<text x="261" y="347" text-anchor="start" class="">1</text>
<text x="307" y="347" text-anchor="middle" class="">number of beats</text>
<text x="360.9" y="347" text-anchor="end" class="">256</text>
</svg></body></html>
